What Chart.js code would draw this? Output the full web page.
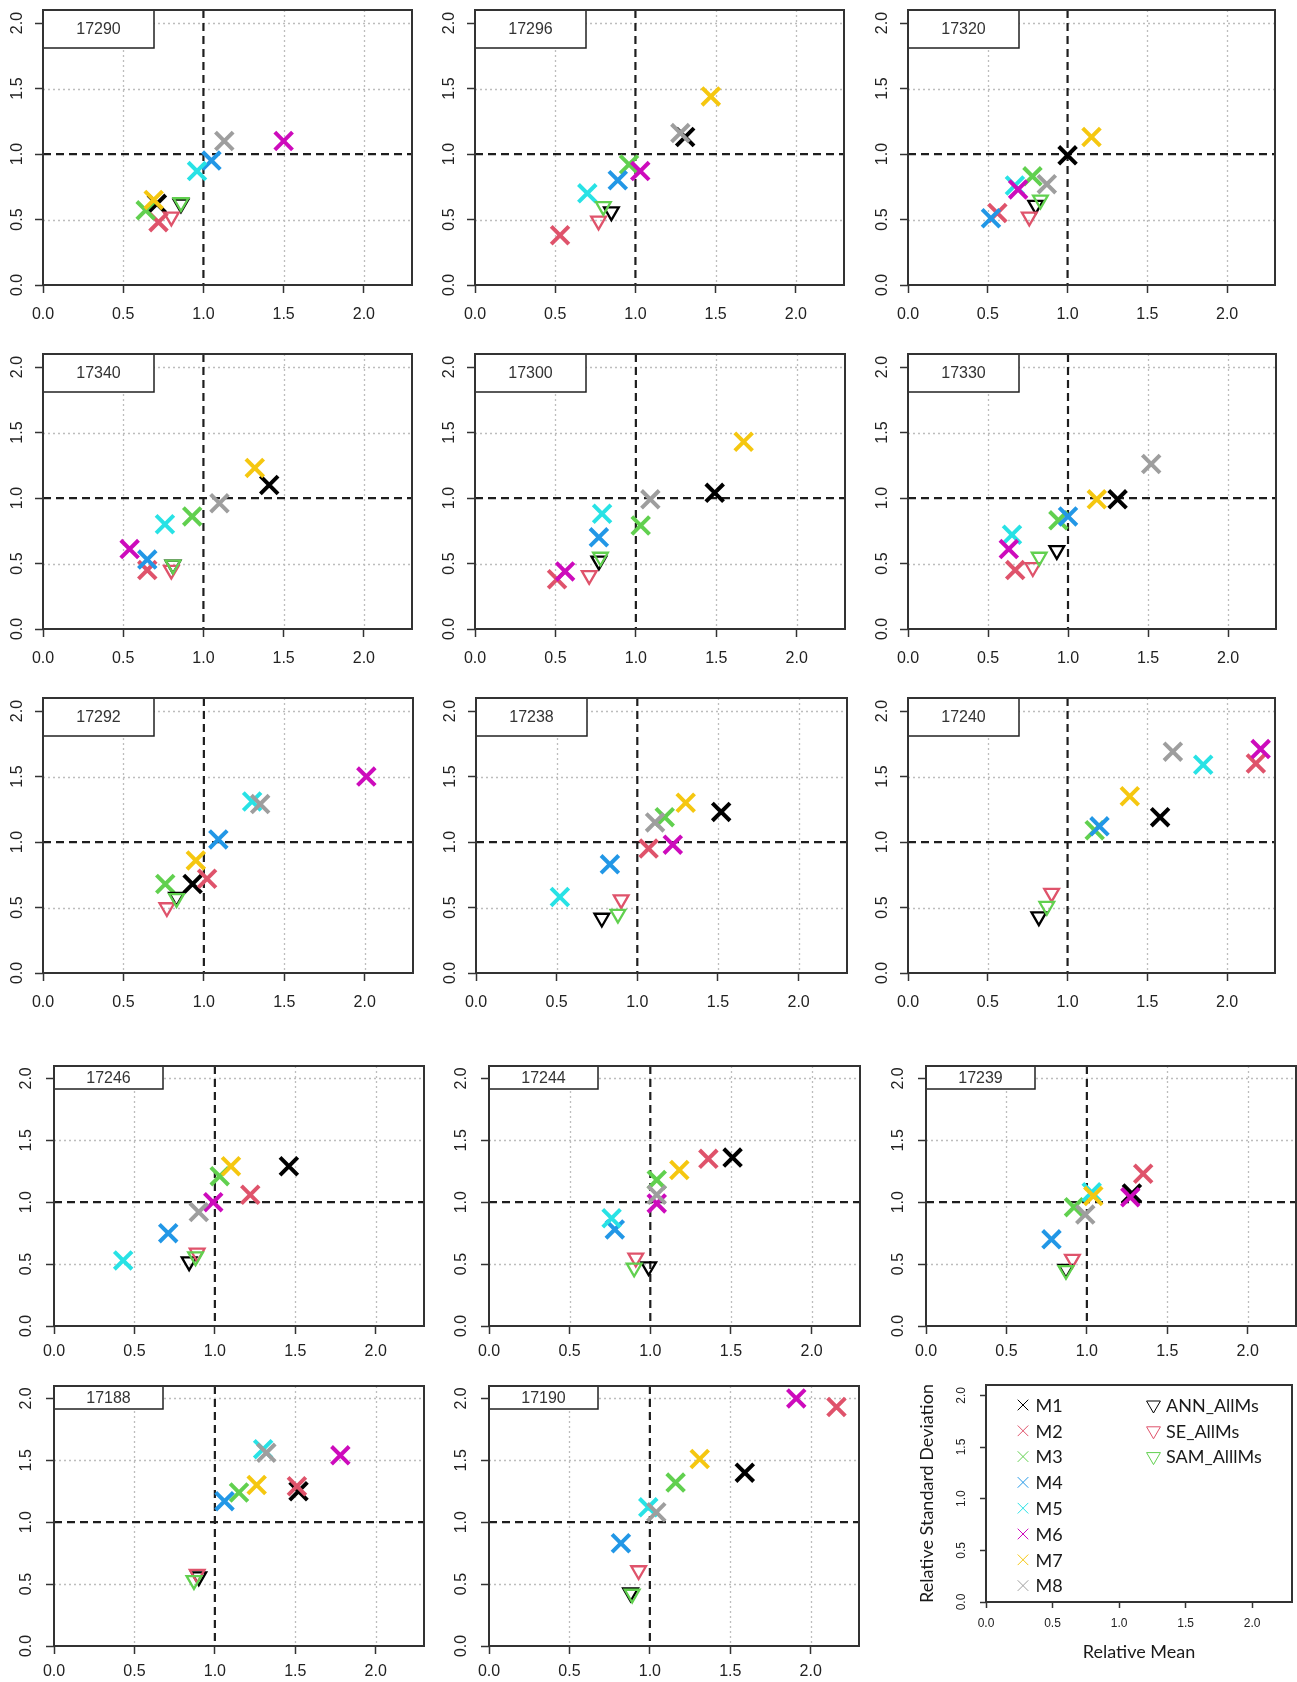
<!doctype html>
<html lang="en">
<head>
<meta charset="utf-8">
<title>Relative mean vs relative standard deviation</title>
<style>
  * { margin: 0; padding: 0; }
  body { background: #fff; width: 1297px; height: 1682px; position: relative; overflow: hidden; }
  .panel { position: absolute; }
  .panel canvas { display: block; }
</style>
</head>
<body>
<script src="https://cdn.jsdelivr.net/npm/chart.js/dist/chart.umd.min.js"></script>
<script>
// stations, one panel each (reading order)
const stations = ['17290', '17296', '17320', '17340', '17300', '17330', '17292', '17238', '17240',
                  '17246', '17244', '17239', '17188', '17190'];
const tickVals = [0, 0.5, 1, 1.5, 2];

// relative mean (x) and relative standard deviation (y) per station
const M1_mean = [0.71, 1.31, 1.00, 1.41, 1.49, 1.31, 0.93, 1.52, 1.58, 1.46, 1.51, 1.28, 1.52, 1.59];
const M1_sd   = [0.62, 1.13, 0.99, 1.10, 1.04, 0.99, 0.68, 1.23, 1.19, 1.29, 1.36, 1.07, 1.25, 1.40];
const M2_mean = [0.72, 0.53, 0.56, 0.65, 0.51, 0.67, 1.02, 1.07, 2.18, 1.22, 1.36, 1.35, 1.51, 2.16];
const M2_sd   = [0.48, 0.38, 0.55, 0.45, 0.38, 0.45, 0.72, 0.95, 1.60, 1.06, 1.35, 1.23, 1.29, 1.93];
const M3_mean = [0.64, 0.96, 0.78, 0.93, 1.03, 0.94, 0.76, 1.17, 1.17, 1.03, 1.04, 0.92, 1.15, 1.16];
const M3_sd   = [0.57, 0.92, 0.83, 0.86, 0.79, 0.83, 0.68, 1.19, 1.09, 1.21, 1.18, 0.96, 1.24, 1.32];
const M4_mean = [1.05, 0.89, 0.52, 0.65, 0.77, 1.00, 1.09, 0.83, 1.20, 0.71, 0.78, 0.78, 1.06, 0.82];
const M4_sd   = [0.95, 0.80, 0.51, 0.53, 0.70, 0.86, 1.02, 0.83, 1.12, 0.75, 0.78, 0.70, 1.17, 0.83];
const M5_mean = [0.96, 0.70, 0.67, 0.76, 0.79, 0.65, 1.30, 0.52, 1.85, 0.43, 0.76, 1.03, 1.30, 0.99];
const M5_sd   = [0.87, 0.70, 0.76, 0.80, 0.88, 0.72, 1.31, 0.58, 1.59, 0.53, 0.87, 1.08, 1.59, 1.12];
const M6_mean = [1.50, 1.03, 0.69, 0.54, 0.56, 0.63, 2.01, 1.22, 2.21, 0.99, 1.04, 1.27, 1.78, 1.91];
const M6_sd   = [1.10, 0.87, 0.73, 0.61, 0.44, 0.61, 1.50, 0.98, 1.71, 1.00, 0.99, 1.04, 1.54, 2.00];
const M7_mean = [0.69, 1.47, 1.15, 1.32, 1.67, 1.18, 0.95, 1.30, 1.39, 1.10, 1.18, 1.04, 1.26, 1.31];
const M7_sd   = [0.65, 1.44, 1.13, 1.23, 1.43, 0.99, 0.86, 1.30, 1.35, 1.29, 1.26, 1.05, 1.30, 1.51];
const M8_mean = [1.13, 1.28, 0.87, 1.10, 1.09, 1.52, 1.35, 1.11, 1.66, 0.90, 1.04, 0.99, 1.32, 1.04];
const M8_sd   = [1.10, 1.16, 0.77, 0.96, 0.99, 1.26, 1.29, 1.15, 1.69, 0.92, 1.06, 0.90, 1.56, 1.08];
const ANN_mean = [0.86, 0.85, 0.80, 0.81, 0.77, 0.93, 0.83, 0.78, 0.82, 0.84, 0.99, 0.87, 0.90, 0.88];
const ANN_sd   = [0.62, 0.56, 0.61, 0.49, 0.52, 0.60, 0.58, 0.42, 0.43, 0.52, 0.48, 0.46, 0.56, 0.43];
const SE_mean  = [0.80, 0.77, 0.76, 0.80, 0.71, 0.78, 0.77, 0.90, 0.90, 0.89, 0.91, 0.91, 0.89, 0.93];
const SE_sd    = [0.52, 0.49, 0.52, 0.45, 0.41, 0.47, 0.50, 0.56, 0.61, 0.59, 0.55, 0.54, 0.58, 0.61];
const SAM_mean = [0.86, 0.80, 0.83, 0.81, 0.78, 0.82, 0.83, 0.88, 0.87, 0.88, 0.90, 0.87, 0.87, 0.89];
const SAM_sd   = [0.63, 0.60, 0.65, 0.49, 0.55, 0.55, 0.57, 0.45, 0.51, 0.56, 0.47, 0.45, 0.53, 0.42];

const series = [
  {name: 'M1', mean: M1_mean, sd: M1_sd, color: '#000000', style: 'crossRot'},
  {name: 'M2', mean: M2_mean, sd: M2_sd, color: '#DF536B', style: 'crossRot'},
  {name: 'M3', mean: M3_mean, sd: M3_sd, color: '#61D04F', style: 'crossRot'},
  {name: 'M4', mean: M4_mean, sd: M4_sd, color: '#2297E6', style: 'crossRot'},
  {name: 'M5', mean: M5_mean, sd: M5_sd, color: '#28E2E5', style: 'crossRot'},
  {name: 'M6', mean: M6_mean, sd: M6_sd, color: '#CD0BBC', style: 'crossRot'},
  {name: 'M7', mean: M7_mean, sd: M7_sd, color: '#F5C710', style: 'crossRot'},
  {name: 'M8', mean: M8_mean, sd: M8_sd, color: '#9E9E9E', style: 'crossRot'},
  {name: 'ANN_AllMs', mean: ANN_mean, sd: ANN_sd, color: '#000000', style: 'triangle'},
  {name: 'SE_AllMs', mean: SE_mean, sd: SE_sd, color: '#DF536B', style: 'triangle'},
  {name: 'SAM_AlllMs', mean: SAM_mean, sd: SAM_sd, color: '#61D04F', style: 'triangle'}
];

// plot box of each panel on the page
const boxLeft = [43, 475, 908, 43, 475, 908, 43, 476, 908, 54, 489, 926, 54, 489];
const boxTop  = [10, 10, 10, 354, 354, 354, 698, 698, 698, 1066, 1066, 1066, 1386, 1386];
const boxW    = [369, 369, 367, 369, 370, 368, 370, 371, 367, 370, 371, 370, 370, 370];

const tickFont = "'Liberation Sans', Arial, sans-serif";
const L = 45, T = 4, R = 4, B = 45;

// grid, reference lines, frame and station label
const panelDecor = {
  id: 'panelDecor',
  beforeDatasetsDraw(chart, args, opts) {
    const {ctx, chartArea: a, scales: {x, y}} = chart;
    const line = (x1, y1, x2, y2) => { ctx.beginPath(); ctx.moveTo(x1, y1); ctx.lineTo(x2, y2); ctx.stroke(); };
    ctx.save();
    if (opts.grid) {
      ctx.strokeStyle = '#bdbdbd';
      ctx.lineWidth = 1.3;
      ctx.setLineDash([2, 3]);
      tickVals.forEach(v => {
        if (v === 0 || v === 1) return;
        const px = Math.round(x.getPixelForValue(v)) + 0.5;
        const py = Math.round(y.getPixelForValue(v)) + 0.5;
        line(px, a.top, px, a.bottom);
        line(a.left, py, a.right, py);
      });
      ctx.strokeStyle = '#1e1e1e';
      ctx.lineWidth = 2.2;
      ctx.setLineDash([8, 5]);
      const px1 = x.getPixelForValue(1), py1 = y.getPixelForValue(1);
      line(px1, a.top, px1, a.bottom);
      line(a.left, py1, a.right, py1);
    }
    ctx.setLineDash([]);
    if (opts.label) {
      ctx.fillStyle = '#fff';
      ctx.fillRect(a.left, a.top, opts.labelW, opts.labelH);
      ctx.strokeStyle = '#222';
      ctx.lineWidth = 1.5;
      ctx.strokeRect(a.left, a.top, opts.labelW, opts.labelH);
      ctx.fillStyle = '#333';
      ctx.font = '16px ' + tickFont;
      ctx.textAlign = 'center';
      ctx.textBaseline = 'middle';
      ctx.fillText(opts.label, a.left + opts.labelW / 2, a.top + opts.labelH / 2 + 1);
    }
    ctx.strokeStyle = '#333';
    ctx.lineWidth = 2;
    ctx.strokeRect(a.left, a.top, a.right - a.left, a.bottom - a.top);
    ctx.restore();
  }
};

function axisOptions(axis, size, pad, tickLen, extra) {
  const o = {
    type: 'linear',
    min: 0,
    max: axis === 'x' ? 2.3 : 2.1,
    afterBuildTicks: s => { s.ticks = tickVals.map(v => ({value: v})); },
    grid: {drawOnChartArea: false, tickLength: tickLen, tickColor: '#333', tickWidth: 1.5},
    border: {display: false},
    ticks: {
      font: {family: tickFont, size: size},
      color: '#222',
      padding: pad,
      autoSkip: false,
      callback: v => Number(v).toFixed(1)
    }
  };
  if (axis === 'x') {
    o.position = 'bottom';
    o.ticks.minRotation = 0;
    o.ticks.maxRotation = 0;
  } else {
    o.position = 'left';
    o.ticks.minRotation = 90;
    o.ticks.maxRotation = 90;
    o.ticks.crossAlign = 'center';
  }
  return Object.assign(o, extra);
}

function addCanvas(left, top, w, h) {
  const wrap = document.createElement('div');
  wrap.className = 'panel';
  wrap.style.left = left + 'px';
  wrap.style.top = top + 'px';
  const cv = document.createElement('canvas');
  cv.width = w;
  cv.height = h;
  cv.style.width = w + 'px';
  cv.style.height = h + 'px';
  wrap.appendChild(cv);
  document.body.appendChild(wrap);
  return cv;
}

stations.forEach((st, i) => {
  const big = i < 9;
  const h = big ? 275 : 260;
  const cv = addCanvas(boxLeft[i] - L, boxTop[i] - T, boxW[i] + L + R, h + T + B);
  const datasets = series.map((s, k) => ({
    label: s.name,
    data: [{x: s.mean[i], y: s.sd[i]}],
    pointStyle: s.style,
    pointRadius: s.style === 'crossRot' ? 12.5 : 8.5,
    pointBorderWidth: s.style === 'crossRot' ? 4 : 2.3,
    pointBorderColor: s.color,
    pointBackgroundColor: 'rgba(0,0,0,0)',
    pointRotation: s.style === 'triangle' ? 180 : 0,
    order: series.length - k
  }));
  new Chart(cv, {
    type: 'scatter',
    data: {datasets},
    plugins: [panelDecor],
    options: {
      responsive: false,
      animation: false,
      devicePixelRatio: 1,
      layout: {padding: {top: T, right: R, left: 0, bottom: 0}, autoPadding: false},
      plugins: {
        legend: {display: false},
        tooltip: {enabled: false},
        panelDecor: {grid: true, label: st, labelW: big ? 111 : 109, labelH: big ? 38 : 23}
      },
      scales: {
        x: axisOptions('x', 16, big ? 12 : 8, 8, {
          afterFit: s => { s.height = B; s.paddingLeft = 0; s.paddingRight = 0; }
        }),
        y: axisOptions('y', 16, big ? 6 : 8, 8, {
          afterFit: s => { s.width = L; s.paddingTop = 0; s.paddingBottom = 0; }
        })
      }
    }
  });
});

// legend panel with axis titles
const legendFont = "Lato, 'Open Sans', sans-serif";
const legendBlock = {
  id: 'legendBlock',
  afterDraw(chart) {
    const {ctx, chartArea: a} = chart;
    const step = 25.8;
    ctx.save();
    ctx.font = '18px ' + legendFont;
    ctx.textBaseline = 'middle';
    ctx.textAlign = 'left';
    let row = 0, tri = 0;
    series.forEach(s => {
      const isX = s.style === 'crossRot';
      const sx = a.left + (isX ? 37 : 167.5);
      const sy = a.top + 20 + (isX ? row : tri) * step;
      ctx.strokeStyle = s.color;
      ctx.fillStyle = 'rgba(0,0,0,0)';
      Chart.helpers.drawPoint(ctx, {
        pointStyle: s.style,
        radius: isX ? 7.5 : 8,
        rotation: isX ? 0 : 180,
        borderWidth: isX ? 1.8 : 2
      }, sx, sy);
      ctx.fillStyle = '#1a1a1a';
      ctx.fillText(s.name, sx + 12.5, sy + 1);
      if (isX) row++; else tri++;
    });
    ctx.restore();
  }
};

{
  const LL = 75, BB = 70;
  const left = 986, top = 1385, w = 306, h = 217;
  const cv = addCanvas(left - LL, top - T, w + LL + R, h + T + BB);
  new Chart(cv, {
    type: 'scatter',
    data: {datasets: []},
    plugins: [panelDecor, legendBlock],
    options: {
      responsive: false,
      animation: false,
      devicePixelRatio: 1,
      layout: {padding: {top: T, right: R, left: 0, bottom: 0}, autoPadding: false},
      plugins: {
        legend: {display: false},
        tooltip: {enabled: false},
        panelDecor: {grid: false, label: null}
      },
      scales: {
        x: axisOptions('x', 12, 8, 6, {
          title: {display: true, text: 'Relative Mean', color: '#1a1a1a',
                  font: {family: legendFont, size: 18}, padding: {top: 0, bottom: 9}},
          afterFit: s => { s.height = BB; s.paddingLeft = 0; s.paddingRight = 0; }
        }),
        y: axisOptions('y', 12, 10, 6, {
          title: {display: true, text: 'Relative Standard Deviation', color: '#1a1a1a',
                  font: {family: legendFont, size: 18}, padding: {top: 5, bottom: 0}},
          afterFit: s => { s.width = LL; s.paddingTop = 0; s.paddingBottom = 0; }
        })
      }
    }
  });
}
</script>
</body>
</html>
